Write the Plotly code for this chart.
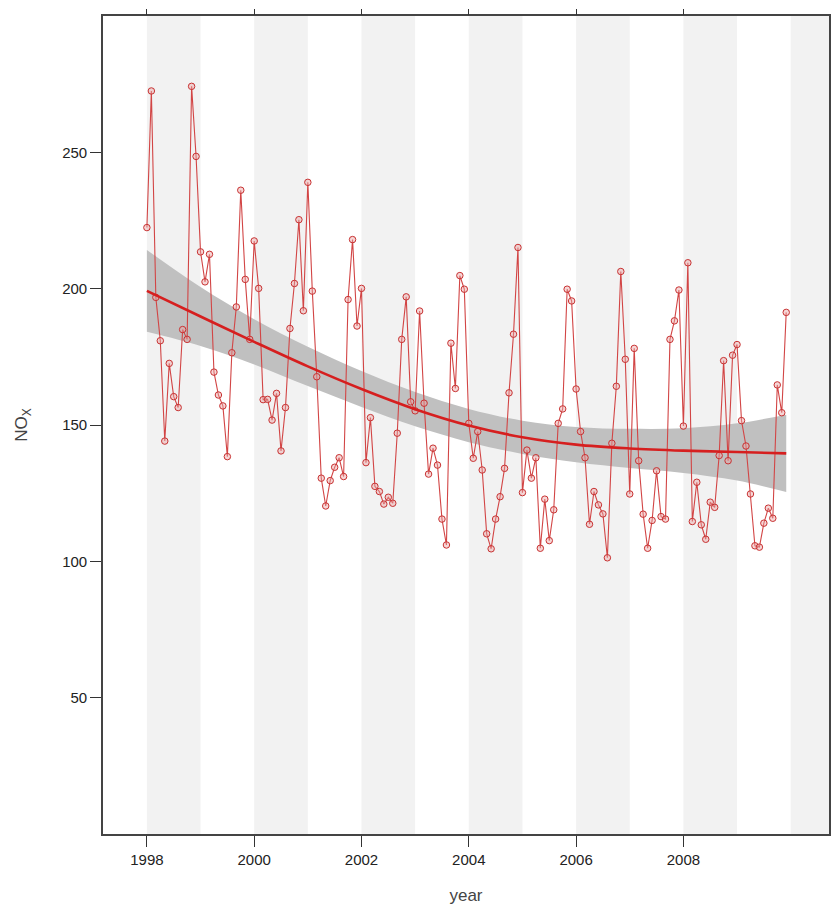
import plotly.graph_objects as go

# ---- data (monthly NOx, Jan 1998 .. Dec 2009) ----
years = list(range(1998, 2010))
nox_1998 = [222.4, 272.5, 196.8, 180.9, 144.1, 172.6, 160.4, 156.4, 185.0, 181.4, 274.2, 248.5]
nox_1999 = [213.5, 202.5, 212.6, 169.4, 161.0, 157.0, 138.4, 176.5, 193.3, 236.1, 203.4, 181.4]
nox_2000 = [217.5, 200.1, 159.3, 159.4, 151.8, 161.6, 140.5, 156.4, 185.4, 201.9, 225.3, 191.9]
nox_2001 = [239.0, 199.1, 167.7, 130.5, 120.3, 129.6, 134.5, 138.0, 131.1, 196.0, 218.0, 186.3]
nox_2002 = [200.1, 136.2, 152.7, 127.5, 125.6, 121.0, 123.5, 121.3, 147.0, 181.4, 197.0, 158.5]
nox_2003 = [155.2, 191.8, 158.0, 132.0, 141.5, 135.3, 115.5, 106.0, 180.0, 163.4, 204.8, 199.8]
nox_2004 = [150.6, 137.8, 147.6, 133.5, 110.1, 104.6, 115.5, 123.7, 134.1, 161.8, 183.3, 215.1]
nox_2005 = [125.2, 140.8, 130.5, 138.0, 104.8, 122.8, 107.6, 118.9, 150.6, 155.9, 199.8, 195.5]
nox_2006 = [163.2, 147.6, 138.0, 113.6, 125.6, 120.7, 117.4, 101.3, 143.3, 164.2, 206.3, 174.1]
nox_2007 = [124.7, 178.1, 136.9, 117.3, 104.8, 115.0, 133.2, 116.4, 115.5, 181.4, 188.2, 199.5]
nox_2008 = [149.6, 209.5, 114.6, 129.0, 113.4, 108.1, 121.7, 119.8, 138.8, 173.6, 136.9, 175.6]
nox_2009 = [179.5, 151.6, 142.3, 124.7, 105.7, 105.2, 114.0, 119.5, 115.8, 164.7, 154.5, 191.3]
nox_by_year = [nox_1998, nox_1999, nox_2000, nox_2001, nox_2002, nox_2003,
               nox_2004, nox_2005, nox_2006, nox_2007, nox_2008, nox_2009]

# smooth trend with confidence band
trend_x = [1998.0, 1999.0, 2000.0, 2001.0, 2002.0, 2003.0, 2004.0, 2005.0,
           2006.0, 2007.0, 2008.0, 2009.0, 2009.917]
trend_fit = [199.2, 189.8, 180.5, 171.5, 163.2, 155.8, 149.8, 145.5,
             142.8, 141.4, 140.6, 140.1, 139.6]
trend_upper = [214.2, 200.6, 188.8, 178.7, 169.8, 162.1, 155.9, 151.6,
               149.3, 148.6, 148.8, 150.6, 153.8]
trend_lower = [184.2, 179.0, 172.2, 164.3, 156.6, 149.5, 143.7, 139.4,
               136.3, 134.2, 132.4, 129.6, 125.4]

stripe_starts = [1998, 2000, 2002, 2004, 2006, 2008, 2010]
x_tick_vals = [1998, 2000, 2002, 2004, 2006, 2008]
y_tick_vals = [50, 100, 150, 200, 250]
x_range = [1997.182, 2010.714]
y_range = [0, 300]

# ---- build ----
dates, values = [], []
for yr, vals in zip(years, nox_by_year):
    for m, v in enumerate(vals):
        dates.append(yr + m / 12.0)
        values.append(v)

fig = go.Figure()

fig.add_trace(go.Scatter(x=trend_x, y=trend_lower, mode="lines",
                         line=dict(width=0, shape="spline"), hoverinfo="skip",
                         showlegend=False))
fig.add_trace(go.Scatter(x=trend_x, y=trend_upper, mode="lines",
                         line=dict(width=0, shape="spline"), fill="tonexty",
                         fillcolor="rgb(192,192,192)", hoverinfo="skip",
                         showlegend=False))

fig.add_trace(go.Scatter(x=dates, y=values, mode="lines+markers",
                         line=dict(color="#D24545", width=1.1),
                         marker=dict(symbol="circle", size=6.5,
                                     color="rgba(235,165,165,0.45)",
                                     line=dict(color="#C83232", width=1)),
                         showlegend=False))

fig.add_trace(go.Scatter(x=trend_x, y=trend_fit, mode="lines",
                         line=dict(color="#D61F1F", width=2.6, shape="spline"),
                         showlegend=False))

# invisible trace for the top axis ticks
fig.add_trace(go.Scatter(x=[x_range[0]], y=[y_range[0]], xaxis="x2",
                         mode="markers", marker=dict(opacity=0),
                         hoverinfo="skip", showlegend=False))

shapes = []
for s in stripe_starts:
    shapes.append(dict(type="rect", xref="x", yref="paper",
                       x0=s, x1=min(s + 1, x_range[1]), y0=0, y1=1,
                       fillcolor="#F2F2F2", line=dict(width=0), layer="below"))

tick_font = dict(family="Liberation Sans Narrow, Liberation Sans, Arial, sans-serif", size=15, color="#222")
title_font = dict(family="Liberation Sans, Arial, sans-serif", size=17, color="#444")

fig.update_layout(
    width=834, height=908,
    margin=dict(l=103, r=3, t=16, b=74),
    plot_bgcolor="white", paper_bgcolor="white",
    shapes=shapes,
    xaxis=dict(range=x_range, tickvals=x_tick_vals, ticks="outside",
               ticklen=11, tickwidth=1.3, tickcolor="#333",
               showline=True, linecolor="#444", linewidth=1.6, mirror=True,
               showgrid=False, zeroline=False, tickfont=tick_font,
               title=dict(text="year", font=title_font, standoff=22)),
    xaxis2=dict(range=x_range, overlaying="x", side="top", tickvals=x_tick_vals,
                ticks="outside", ticklen=6, tickwidth=1.3, tickcolor="#333",
                showticklabels=False, showgrid=False, zeroline=False, showline=False),
    yaxis=dict(range=y_range, tickvals=y_tick_vals, ticks="outside",
               ticklen=11, tickwidth=1.3, tickcolor="#333",
               showline=True, linecolor="#444", linewidth=1.6, mirror=True,
               showgrid=False, zeroline=False, tickfont=tick_font,
               title=dict(text="NO<sub>X</sub>", font=title_font, standoff=30)),
)

fig.write_html("out.html")
